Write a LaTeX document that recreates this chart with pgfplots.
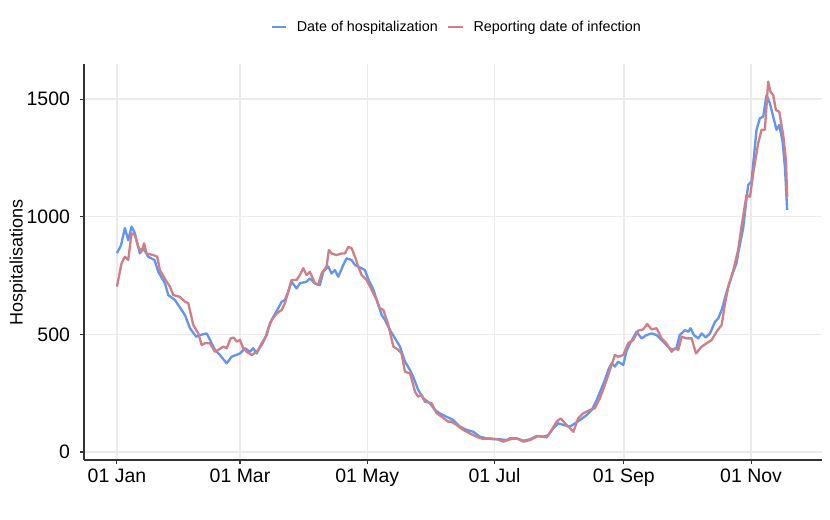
\documentclass[border=0pt]{standalone}
\usepackage{pgfplots}
\pgfplotsset{compat=1.18}
\usepackage{fontspec}
\setmainfont{Liberation Sans}
\definecolor{hospblue}{RGB}{100,149,237}
\definecolor{infred}{RGB}{205,128,136}
\definecolor{gridgray}{RGB}{235,235,235}
\definecolor{axgray}{RGB}{51,51,51}

\begin{document}
\begin{tikzpicture}
% keep the reference's margins (1 px = 0.75 pt)
\path[use as bounding box] (-63pt,-44.25pt) rectangle (559.5pt,345pt);
\begin{axis}[
    scale only axis,
    width=553.5pt, height=297pt,
    xmin=-15.8, xmax=338,
    ymin=-34, ymax=1649,
    axis x line*=bottom, axis y line*=left,
    axis line style={axgray, line width=0.8pt, -},
    xtick={0,59,120,181,243,304},
    xticklabels={01 Jan,01 Mar,01 May,01 Jul,01 Sep,01 Nov},
    ytick={0,500,1000,1500},
    tick align=outside,
    major tick length=3pt,
    tick style={axgray, line width=0.8pt},
    grid=major,
    major grid style={gridgray, line width=1.1pt},
    ticklabel style={font=\fontsize{14.6}{17}\selectfont, black},
    xticklabel style={text height=10.5pt, text depth=0pt},
    yticklabel style={xshift=-4pt},
    /pgf/number format/assume math mode=true,
    /pgf/number format/1000 sep={},
    ylabel={Hospitalisations},
    ylabel style={at={(axis description cs:-0.0894,0.5)}, anchor=center, font=\fontsize{13.5}{16}\selectfont},
    legend columns=2,
    legend style={at={(axis description cs:0.5054,1.093)}, anchor=center, draw=none, fill=none,
        font=\fontsize{10.75}{13}\selectfont,
        /tikz/every odd column/.append style={column sep=5pt},
        /tikz/every even column/.append style={column sep=5pt}},
    legend image code/.code={\draw[#1] (0pt,0pt) -- (11pt,0pt);},
]
% Date of hospitalization
\addplot[hospblue, line width=1.75pt, line join=round] coordinates {
(0,845)(2,880)(3.8,952)(5.4,900)(7,958)(8.6,929)(11,844)(12.6,866)(15,830)(18,816)
(19.8,766)(23,717)(24.6,667)(27.8,646)(30,617)(32.6,582)(35,526)(38,490)(39.8,497)(43,504)
(44.6,476)(47,434)(49.4,412)(52.6,377)(55,405)(59,419)(61.4,441)(63.8,426)(65.3,441)(67,419)
(69.4,462)(71.8,497)(73.3,547)(75,575)(77.3,611)(79,639)(80.5,646)(82.1,681)(83.7,724)(86.1,695)
(87.7,717)(90.9,724)(92.5,738)(94.9,717)(97.3,710)(98.9,766)(101.3,788)(102.9,759)(104.5,773)(106.1,745)
(108.5,795)(110.1,823)(112.5,816)(114.1,795)(115.7,788)(117.3,781)(118.9,773)(120.5,734)(123,689)(125.3,625)
(126.9,582)(128.5,561)(130.9,518)(133.3,483)(135.7,448)(138.1,384)(140.5,348)(142,320)(144.4,264)(146.9,228)
(150,207)(152.4,179)(154.8,164)(158,150)(161.2,136)(164.4,108)(167.6,94)(170.8,86)(174,65)(177.2,58)
(180.4,54)(183.6,54)(186.8,51)(188.4,58)(191.6,58)(194.8,48)(198,54)(201.2,68)(204.4,65)(206.8,72)
(209.2,101)(211.6,122)(214,115)(217.2,108)(219.6,122)(222,136)(225.2,157)(227.6,179)(230,221)(232.3,271)
(233.9,306)(235.5,348)(237.1,377)(238.7,363)(240.3,384)(242.7,370)(244.3,430)(245.9,460)(249.1,511)(251.5,483)
(253.9,497)(256.3,504)(258.7,497)(261.1,476)(263.4,455)(265,441)(266.6,434)(268.2,441)(269.8,497)(272.3,518)
(273.9,511)(275,526)(276.6,497)(278.7,483)(280.3,504)(282.3,487)(284.3,504)(286.7,554)(288.3,568)(289.9,604)
(292.3,681)(294.6,745)(297,802)(297.8,844)(300.2,951)(302.6,1135)(304.2,1149)(306.6,1369)(308.2,1418)(309.8,1425)
(311.4,1517)(313,1482)(314.6,1425)(316.2,1369)(317.5,1390)(319.1,1319)(320.2,1213)(321.3,1029)
};
\addlegendentry{Date of hospitalization}
% Reporting date of infection
\addplot[infred, line width=1.75pt, line join=round] coordinates {
(0,703)(2.2,802)(3.8,830)(5.4,816)(7,929)(8.6,922)(10.2,872)(11.8,851)(13,887)(14.2,844)
(17.4,837)(19.3,830)(20.6,773)(23.8,724)(25.4,703)(27,667)(30,660)(32.6,639)(34.2,632)(36.6,540)
(39,504)(40.6,455)(42.2,462)(44.6,462)(47,426)(48.6,434)(51,448)(52.6,441)(54.5,483)(56,486)
(57.4,469)(59,476)(60.5,441)(62.2,426)(64.6,412)(67,426)(69.4,455)(71,483)(72.6,526)(74.2,561)
(76.6,589)(79,604)(80.5,632)(82.1,681)(83.7,731)(86.1,731)(87.7,752)(89.3,781)(90.9,752)(92.5,766)
(94.9,717)(96.5,710)(98.1,759)(100.5,788)(101.6,859)(102.9,844)(105.3,837)(107.7,844)(109.3,844)(110.9,872)
(112.5,866)(114.1,830)(115.7,788)(117.3,752)(119.7,731)(122.1,689)(124.5,646)(126,611)(127.7,604)(130.1,540)
(132.5,448)(134.9,434)(136.4,419)(138.1,341)(140.5,334)(142.9,256)(144.4,235)(146,242)(147.6,214)(150.9,207)
(153.3,164)(155.7,150)(158.8,129)(160.4,129)(162.8,115)(166,94)(169.2,79)(172.4,65)(175.6,55)(178.8,58)
(182,55)(185.2,44)(188.4,54)(191.6,58)(194.8,44)(198,51)(202,68)(206,62)(208.4,94)(210.8,129)
(212.7,143)(214.8,122)(217.2,101)(218.8,86)(221.1,143)(223.5,164)(226.8,179)(229.1,186)(231.5,228)(233.9,285)
(236.3,348)(238.7,412)(240.3,405)(242.7,412)(245.1,462)(247.5,476)(249.9,516)(252.3,521)(254.2,544)(256.3,521)
(258.7,526)(261.1,483)(263.4,462)(265.9,426)(267.5,441)(269.1,434)(270.7,490)(273.1,483)(275.5,483)(277.6,419)
(280.3,448)(282.7,462)(285.1,476)(287.4,511)(289.9,540)(291.5,632)(293.1,703)(295.5,773)(297.8,859)(299.4,958)
(301.8,1092)(303.5,1085)(305,1184)(307.4,1312)(309,1369)(310.6,1369)(312.2,1574)(313.3,1531)(314.6,1517)(315.9,1453)
(317.5,1446)(319.4,1347)(320.7,1241)(321.3,1085)
};
\addlegendentry{Reporting date of infection}
\end{axis}
\end{tikzpicture}
\end{document}
